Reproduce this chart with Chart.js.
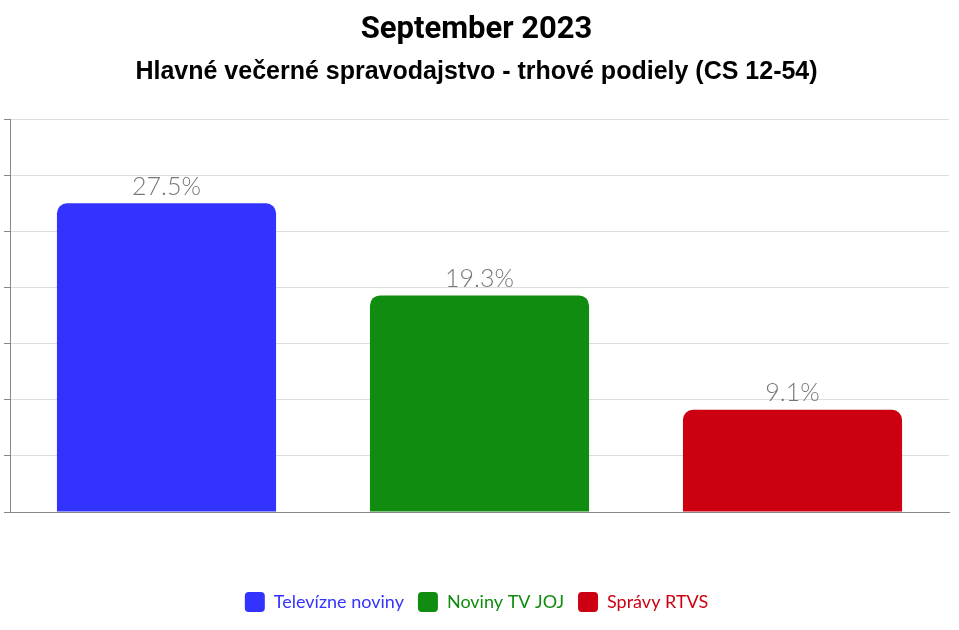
<!DOCTYPE html>
<html>
<head>
<meta charset="utf-8">
<script src="https://cdn.jsdelivr.net/npm/chart.js@4"></script>
<style>
  html, body { margin: 0; padding: 0; background: #fff; }
  #wrap { width: 959px; height: 630px; position: relative; }
</style>
</head>
<body>
<div id="wrap"><canvas id="chart"></canvas></div>
<script>
// dáta
const kategorie = [''];
const relacie = ['Televízne noviny', 'Noviny TV JOJ', 'Správy RTVS'];
const podiely = [27.5, 19.3, 9.1];
const farby = ['#3333ff', '#108c10', '#cc0011'];

// popisky nad stĺpcami
const popiskyPlugin = {
    id: 'popisky',
    afterDatasetsDraw(chart) {
        const ctx = chart.ctx;
        ctx.save();
        ctx.font = '300 25px Lato';
        ctx.fillStyle = '#777';
        ctx.textAlign = 'center';
        ctx.textBaseline = 'bottom';
        chart.data.datasets.forEach((ds, i) => {
            const bar = chart.getDatasetMeta(i).data[0];
            ctx.fillText(ds.data[0] + '%', bar.x, bar.y - 4);
        });
        ctx.restore();
    }
};

new Chart(document.getElementById('chart'), {
    type: 'bar',
    data: {
        labels: kategorie,
        datasets: relacie.map((nazov, i) => ({
            label: nazov,
            data: [podiely[i]],
            backgroundColor: farby[i],
            borderRadius: { topLeft: 10, topRight: 10 },
            borderSkipped: 'bottom',
            barPercentage: 0.7,
            categoryPercentage: 1.0
        }))
    },
    options: {
        responsive: true,
        maintainAspectRatio: false,
        animation: false,
        layout: { padding: { left: 4, right: 10, top: 0, bottom: 8 } },
        plugins: {
            title: {
                display: true,
                text: 'September 2023',
                color: '#000',
                font: { family: 'Roboto', size: 31, weight: 'bold' },
                padding: { top: 12, bottom: 8 }
            },
            subtitle: {
                display: true,
                text: 'Hlavné večerné spravodajstvo - trhové podiely (CS 12-54)',
                color: '#000',
                font: { family: 'Liberation Sans', size: 25, weight: 'bold' },
                padding: { bottom: 32 }
            },
            legend: {
                position: 'bottom',
                labels: {
                    boxWidth: 20,
                    boxHeight: 20,
                    useBorderRadius: true,
                    borderRadius: 4,
                    padding: 14,
                    font: { family: 'Lato', size: 18 },
                    generateLabels(chart) {
                        return chart.data.datasets.map((ds, i) => ({
                            text: ds.label,
                            fillStyle: ds.backgroundColor,
                            strokeStyle: ds.backgroundColor,
                            fontColor: ds.backgroundColor,
                            lineWidth: 0,
                            borderRadius: 4,
                            datasetIndex: i
                        }));
                    }
                }
            },
            tooltip: { enabled: false }
        },
        scales: {
            x: {
                grid: { display: false },
                border: { color: '#888' },
                ticks: { display: false },
                afterFit(scale) { scale.height = 66; }
            },
            y: {
                min: 0,
                max: 35,
                ticks: { stepSize: 5, display: false },
                grid: { color: '#ddd', drawTicks: true, tickLength: 6, tickColor: '#888' },
                border: { color: '#888' }
            }
        }
    },
    plugins: [popiskyPlugin]
});
</script>
</body>
</html>
